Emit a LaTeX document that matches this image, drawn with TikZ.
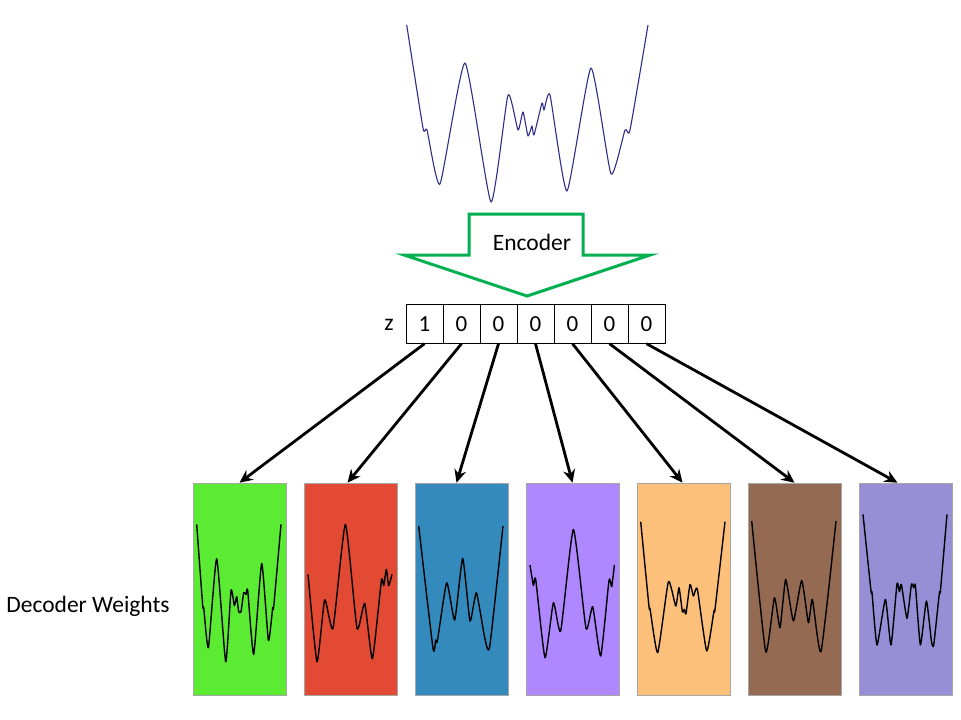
\documentclass[tikz,border=0pt]{standalone}
\usepackage{fontspec}
\setmainfont{Carlito}
\usetikzlibrary{arrows.meta}
\definecolor{encc}{HTML}{00B050}
\definecolor{wavec}{HTML}{2E2E8A}
\definecolor{gA}{HTML}{5CEB33}
\definecolor{gB}{HTML}{E24A33}
\definecolor{gC}{HTML}{348ABD}
\definecolor{gD}{HTML}{AF87FF}
\definecolor{gE}{HTML}{FDC07A}
\definecolor{gF}{HTML}{946A52}
\definecolor{gG}{HTML}{988ED5}
\tikzset{
  cell/.style={draw,line width=0.8pt,minimum width=37pt,minimum height=39pt,inner sep=0pt,font=\fontsize{23}{27}\selectfont},
  wbox/.style={draw=gray!70,line width=0.6pt,minimum width=93pt,minimum height=212pt,inner sep=0pt},
  wave/.style={line width=1.4pt,line join=round},
  warrow/.style={-{Stealth[length=13pt,width=12pt]},line width=2.8pt},
  lbl/.style={font=\fontsize{23.5}{28}\selectfont,inner sep=0pt}
}

\begin{document}
\begin{tikzpicture}[x=1pt,y=-1pt]
  \useasboundingbox (0,0) rectangle (961,720);
  \draw[wavec,line width=1.1pt,line join=round] plot[smooth,tension=0.3] coordinates {(406.7,25) (423,128) (427,130) (440,184) (465,63) (491,202) (508,95) (518,130) (523,112) (528,136) (532,126) (534,135) (542,103) (544,110) (550,95) (567,191) (591,68) (611,174) (625,130) (630,130) (648,25)};
  \draw[encc,line width=3pt,line join=miter] (469,214) -- (583,214) -- (583,255) -- (650,255) -- (527,296) -- (404,255) -- (469,255) -- cycle;
  \node[lbl] (enc) at (532,242) {Encoder};
  \foreach \i/\v in {1/1,2/0,3/0,4/0,5/0,6/0,7/0}
    \node[cell] (c\i) at ({387.5+37*\i},323.8) {\v};
  \node[lbl] (zlab) at (389,325) {z};
  \foreach \i/\c in {1/gA,2/gB,3/gC,4/gD,5/gE,6/gF,7/gG}
    \node[wbox,fill=\c] (b\i) at ({128.5+111*\i},589) {};
  \node[lbl] (dec) at (88,606) {Decoder Weights};
  \foreach \i/\dx in {1/0,2/-3,3/-5,4/0,5/-1,6/0,7/-8}
    \draw[warrow] (c\i.south) -- ([xshift=\dx pt]b\i.north);
  \draw[wave,shift={(b1.north west)}] plot[smooth,tension=0.3] coordinates {(4,41.7) (10,123) (11,125) (15.7,165) (24,76) (33,179) (38.3,107.7) (41.7,123) (44,114) (46,129) (48.3,129) (51,110) (53.3,111.7) (55,107.7) (61,171.7) (69,80.7) (75.7,157.7) (80,125) (81,124) (88.3,41.7)};
  \draw[wave,shift={(b2.north west)}] plot[smooth,tension=0.3] coordinates {(4.3,91.7) (13.3,179) (21,117) (29.3,145.7) (41.7,41.7) (53.3,145.7) (61,120.7) (68.7,176) (77.7,97.7) (80,103) (82.7,86.7) (85,103) (88.3,91.7)};
  \draw[wave,shift={(b3.north west)}] plot[smooth,tension=0.3] coordinates {(4,43.3) (18.3,165.7) (21,157.3) (22.7,158.3) (32,100) (40,137.3) (48,75.7) (55.3,138.3) (61.7,110) (70,155) (75,164) (88.3,43.3)};
  \draw[wave,shift={(b4.north west)}] plot[smooth,tension=0.3] coordinates {(4.3,82.3) (7.7,102.7) (10,96.7) (19.3,175) (27.7,120) (35,148.3) (47.7,46.7) (60.3,145.7) (67,124) (75,173.3) (83.3,97.7) (86,104) (88.7,82.3)};
  \draw[wave,shift={(b5.north west)}] plot[smooth,tension=0.3] coordinates {(4,39) (12.3,124) (13.3,126) (21,170) (31.7,99) (39,123.3) (42.3,105) (45.7,129) (47.7,126.7) (49.3,131) (53.3,101.7) (56.7,113.3) (59,106.7) (61,108.3) (70,168.3) (77.3,128) (78.3,126.7) (88.3,39)};
  \draw[wave,shift={(b6.north west)}] plot[smooth,tension=0.3] coordinates {(4,38.3) (18,169) (26.7,115) (32.3,145) (38,96.7) (45.7,138.3) (54,97.7) (60.7,140) (64.7,116.7) (73.3,169) (88.3,38.3)};
  \draw[wave,shift={(b7.north west)}] plot[smooth,tension=0.3] coordinates {(4.3,31.7) (12.3,108.3) (13.3,110) (18.3,162.3) (26.7,116.7) (32.3,162.3) (38.3,101) (40.7,109) (42.7,101.7) (48.3,135.7) (52.7,101.7) (55,105) (56.7,103) (61.7,162.3) (67.7,118.3) (72.7,158.3) (75,162.3) (80.7,110) (81.7,108.3) (88.3,31.7)};
\end{tikzpicture}
\end{document}
